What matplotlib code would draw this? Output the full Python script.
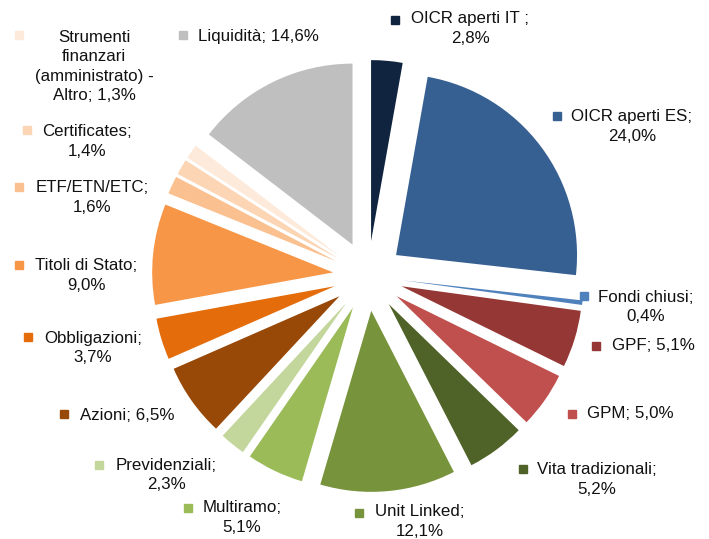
import matplotlib
matplotlib.use("Agg")
import matplotlib.pyplot as plt

W, H = 709, 539

categories = ["OICR aperti IT ;", "OICR aperti ES;", "Fondi chiusi;", "GPF;", "GPM;",
              "Vita tradizionali;", "Unit Linked;", "Multiramo;", "Previdenziali;",
              "Azioni;", "Obbligazioni;", "Titoli di Stato;", "ETF/ETN/ETC;",
              "Certificates;", "Strumenti finanzari (amministrato) - Altro;", "Liquidità;"]
values = [2.8, 24.0, 0.4, 5.1, 5.0, 5.2, 12.1, 5.1, 2.3, 6.5, 3.7, 9.0, 1.6, 1.4, 1.3, 14.6]
value_labels = ["2,8%", "24,0%", "0,4%", "5,1%", "5,0%", "5,2%", "12,1%", "5,1%", "2,3%",
                "6,5%", "3,7%", "9,0%", "1,6%", "1,4%", "1,3%", "14,6%"]
colors = ["#10243F", "#376092", "#4F81BD", "#953735", "#C0504D", "#4F6228", "#77933C",
          "#9BBB59", "#C3D69B", "#984807", "#E46C0A", "#F79646", "#FAC090", "#FCD5B5",
          "#FDEADA", "#BFBFBF"]

# label layout (pixel coords, y from top): text lines, text centre x, first line y, marker x, marker y
label_layout = [
    (["OICR aperti IT ;", "2,8%"], 470, 19, 395, 20),
    (["OICR aperti ES;", "24,0%"], 632, 117, 557, 116),
    (["Fondi chiusi;", "0,4%"], 646, 297, 584, 296),
    (["GPF; 5,1%"], 653, 346, 596, 346),
    (["GPM; 5,0%"], 630, 414, 572, 414),
    (["Vita tradizionali;", "5,2%"], 597, 470, 523, 469),
    (["Unit Linked;", "12,1%"], 420, 512, 359, 513),
    (["Multiramo;", "5,1%"], 242, 508, 188, 508),
    (["Previdenziali;", "2,3%"], 166, 465, 99, 465),
    (["Azioni; 6,5%"], 127, 415, 64, 414),
    (["Obbligazioni;", "3,7%"], 93, 338, 28, 337),
    (["Titoli di Stato;", "9,0%"], 86, 266, 19, 265),
    (["ETF/ETN/ETC;", "1,6%"], 92, 188, 19, 187),
    (["Certificates;", "1,4%"], 87, 132, 27, 130),
    (["Strumenti", "finanzari", "(amministrato) -", "Altro; 1,3%"], 94, 37, 19, 35),
    (["Liquidità; 14,6%"], 258, 36, 183, 35),
]

plt.rcParams['font.family'] = ['Liberation Sans', 'DejaVu Sans']

fig = plt.figure(figsize=(W / 100, H / 100), dpi=100)
ax = fig.add_axes([0, 0, 1, 1])

cx, cy = 368, H - 276
R = 181
expl = 35
ax.pie(values, colors=colors, startangle=90, counterclock=False,
       center=(cx, cy), radius=R, explode=[expl] * len(values),
       wedgeprops=dict(linewidth=0))

ax.set_xlim(0, W)
ax.set_ylim(0, H)
ax.set_aspect('equal')
ax.axis('off')

line_h = 19.5
for (lines, tx, ty, mx, my), col in zip(label_layout, colors):
    for i, ln in enumerate(lines):
        ax.text(tx, H - (ty + i * line_h), ln, ha='center', va='center',
                fontsize=12.2, color='#111111')
    ax.plot([mx], [H - my], marker='s', markersize=5.5, color=col, linestyle='none')

fig.savefig("out.png", dpi=100, facecolor='white')
